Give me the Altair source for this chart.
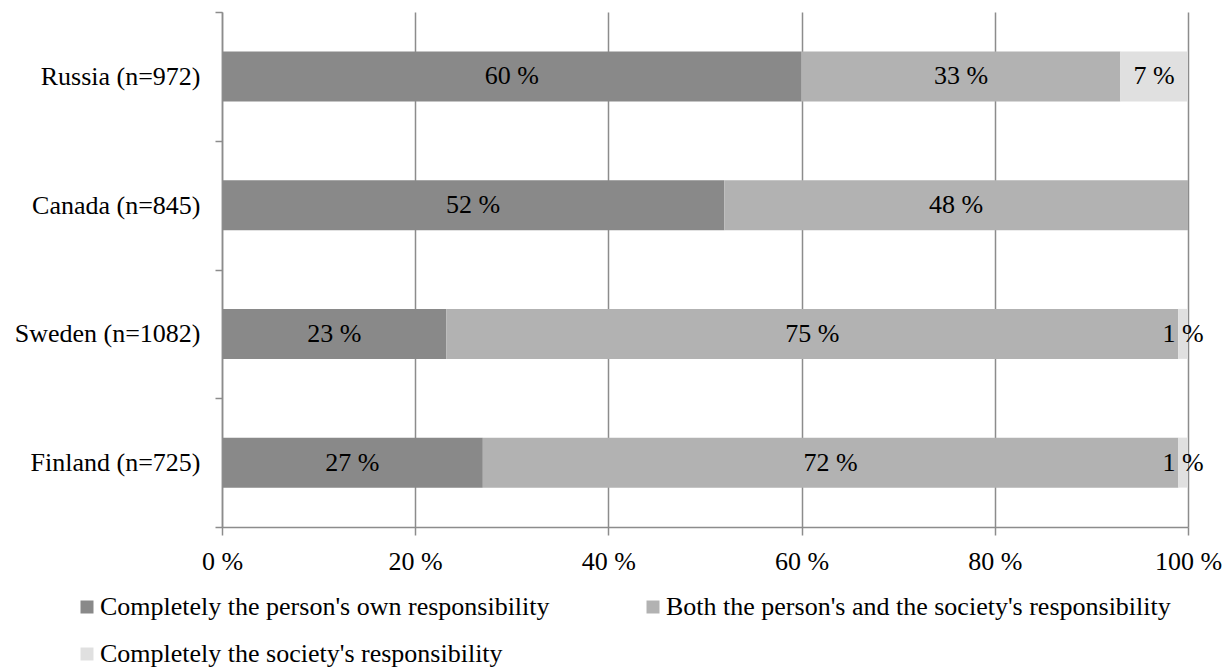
import altair as alt
import pandas as pd

countries = ["Russia (n=972)", "Canada (n=845)", "Sweden (n=1082)", "Finland (n=725)"]
categories = [
    "Completely the person's own responsibility",
    "Both the person's and the society's responsibility",
    "Completely the society's responsibility",
]
own = [60, 52, 23, 27]
both = [33, 48, 75, 72]
society = [7, 0, 1, 1]
colors = ["#898989", "#b2b2b2", "#e0e0e0"]
tick_values = [0, 0.2, 0.4, 0.6, 0.8, 1.0]

FONT = "Liberation Serif"
FS = 26
GRAY = "#8c8c8c"

rows = []
for i, c in enumerate(countries):
    for k, vals in enumerate([own, both, society]):
        rows.append({"country": c, "category": categories[k], "rank": k, "value": vals[i]})
df = pd.DataFrame(rows)

base = alt.Chart(df).transform_stack(
    stack="value",
    groupby=["country"],
    as_=["v0", "v1"],
    offset="normalize",
    sort=[alt.SortField(field="rank", order="ascending")],
).transform_calculate(
    mid="(datum.v0 + datum.v1) / 2",
    label="datum.value + ' %'",
)

y_scale = alt.Scale(paddingInner=0, paddingOuter=0)

y_enc = alt.Y(
    "country:N",
    sort=countries,
    title=None,
    scale=y_scale,
    axis=alt.Axis(
        tickBand="extent",
        grid=False,
        domainColor=GRAY,
        domainWidth=1.5,
        tickColor=GRAY,
        tickWidth=1.5,
        tickSize=7,
        labelPadding=15,
        labelFont=FONT,
        labelFontSize=FS,
        labelColor="black",
        labelLimit=0,
        zindex=1,
    ),
)

x_scale = alt.Scale(domain=[0, 1], nice=False)

bars = base.mark_bar(size=50).encode(
    x=alt.X(
        "v0:Q",
        scale=x_scale,
        title=None,
        axis=alt.Axis(
            values=tick_values,
            labelExpr="round(datum.value * 100) + ' %'",
            grid=True,
            gridColor=GRAY,
            gridWidth=1.5,
            domainColor=GRAY,
            domainWidth=1.5,
            tickColor=GRAY,
            tickWidth=1.5,
            tickSize=8,
            labelPadding=13,
            labelFont=FONT,
            labelFontSize=FS,
            labelColor="black",
            labelFlush=False,
            labelOverlap=False,
        ),
    ),
    x2="v1:Q",
    y=y_enc,
    color=alt.Color(
        "category:N",
        scale=alt.Scale(domain=categories, range=colors),
        legend=alt.Legend(
            title=None,
            orient="none",
            direction="horizontal",
            legendX=-148,
            legendY=582,
            columns=2,
            columnPadding=90,
            rowPadding=21,
            padding=0,
            symbolType="square",
            symbolSize=169,
            symbolStrokeWidth=0,
            labelOffset=0,
            labelFont=FONT,
            labelFontSize=FS,
            labelColor="black",
            labelLimit=0,
        ),
    ),
)

texts = base.transform_filter("datum.value > 0").mark_text(
    font=FONT, fontSize=FS, color="black", baseline="middle", align="center"
).encode(
    x=alt.X("mid:Q", scale=x_scale),
    y=alt.Y("country:N", sort=countries, scale=y_scale),
    text="label:N",
)

chart = alt.layer(bars, texts).properties(
    width=966,
    height=515,
    autosize=alt.AutoSizeParams(type="none"),
    padding={"left": 222, "top": 12, "right": 42, "bottom": 144},
).configure_view(stroke=None)

chart.save("out.html", embed_options={"renderer": "svg", "actions": False})
